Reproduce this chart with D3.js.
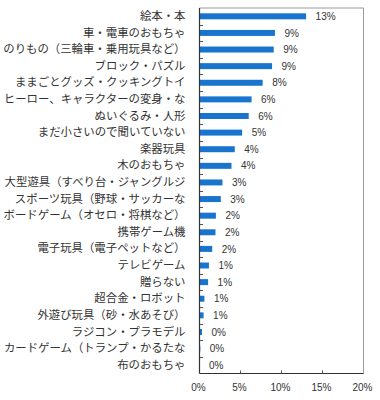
<!DOCTYPE html>
<html><head><meta charset="utf-8">
<script src="https://cdn.jsdelivr.net/npm/d3@7"></script>
<style>
html,body{margin:0;padding:0;background:#fff;}
svg{display:block;}
</style>
</head><body>
<svg id="chart" width="380" height="400"></svg>
<script>
const categories = [
  "絵本・本",
  "車・電車のおもちゃ",
  "のりもの（三輪車・乗用玩具など）",
  "ブロック・パズル",
  "ままごとグッズ・クッキングトイ",
  "ヒーロー、キャラクターの変身・な",
  "ぬいぐるみ・人形",
  "まだ小さいので聞いていない",
  "楽器玩具",
  "木のおもちゃ",
  "大型遊具（すべり台・ジャングルジ",
  "スポーツ玩具（野球・サッカーな",
  "ボードゲーム（オセロ・将棋など）",
  "携帯ゲーム機",
  "電子玩具（電子ペットなど）",
  "テレビゲーム",
  "贈らない",
  "超合金・ロボット",
  "外遊び玩具（砂・水あそび）",
  "ラジコン・プラモデル",
  "カードゲーム（トランプ・かるたな",
  "布のおもちゃ"
];
const values = [13.0, 9.2, 9.05, 8.85, 7.7, 6.35, 6.0, 5.2, 4.3, 3.9, 2.8, 2.6, 2.0, 1.95, 1.55, 1.15, 1.05, 0.6, 0.5, 0.3, 0.1, 0.0];
const valueLabels = ["13%","9%","9%","9%","8%","6%","6%","5%","4%","4%","3%","3%","2%","2%","2%","1%","1%","1%","1%","0%","0%","0%"];
const xTicks = [0, 5, 10, 15, 20];
const xTickLabels = ["0%","5%","10%","15%","20%"];

const svg = d3.select("#chart");
const pLeft = 199.5, pRight = 363.5, pTop = 8, pBottom = 373.5;

const x = d3.scaleLinear().domain([0, 20]).range([pLeft, pRight]);
const y = d3.scaleBand().domain(categories).range([pTop, pBottom]).paddingInner(0.64).paddingOuter(0.32);
const yRow = d3.scaleBand().domain(categories).range([pTop, pBottom]);

// frame (top, right)
svg.append("path")
  .attr("d", `M${pLeft},${pTop}H${pRight}V${pBottom}`)
  .attr("fill", "none").attr("stroke", "#9a9a9a").attr("stroke-width", 1);

// bars
svg.append("g").selectAll("rect").data(categories).join("rect")
  .attr("x", x(0))
  .attr("y", d => y(d))
  .attr("width", (d, i) => x(values[i]) - x(0))
  .attr("height", y.bandwidth())
  .attr("fill", "#1874cd");

// value labels
svg.append("g").selectAll("text").data(categories).join("text")
  .attr("x", (d, i) => x(values[i]) + 9.5)
  .attr("y", d => yRow(d) + yRow.bandwidth() / 2 + 1)
  .attr("dominant-baseline", "middle")
  .attr("font-family", "Liberation Sans, Arial, sans-serif")
  .attr("font-size", "10px")
  .attr("fill", "#333")
  .text((d, i) => valueLabels[i]);

// left axis
const rowBounds = categories.slice(1).map(c => yRow(c));
svg.append("g").selectAll("line").data(rowBounds).join("line")
  .attr("x1", pLeft).attr("x2", pLeft + 3.5)
  .attr("y1", d => Math.round(d) + 0.5).attr("y2", d => Math.round(d) + 0.5)
  .attr("stroke", "#555").attr("stroke-width", 1);
svg.append("line").attr("x1", pLeft).attr("x2", pLeft).attr("y1", pTop).attr("y2", pBottom)
  .attr("stroke", "#333").attr("stroke-width", 1.2);

// category labels
svg.append("g").selectAll("text").data(categories).join("text")
  .attr("x", 185.5)
  .attr("y", d => yRow(d) + yRow.bandwidth() / 2 + 0.5)
  .attr("text-anchor", "end")
  .attr("dominant-baseline", "middle")
  .attr("font-family", "Noto Sans CJK JP, sans-serif")
  .attr("font-size", "11.4px")
  .attr("fill", "#333")
  .text(d => d);

// bottom axis
svg.append("line").attr("x1", pLeft).attr("x2", pRight).attr("y1", pBottom).attr("y2", pBottom)
  .attr("stroke", "#333").attr("stroke-width", 1.2);
svg.append("g").selectAll("line").data(xTicks.slice(1, -1)).join("line")
  .attr("x1", d => x(d)).attr("x2", d => x(d))
  .attr("y1", pBottom).attr("y2", pBottom - 3)
  .attr("stroke", "#555");
svg.append("g").selectAll("text").data(xTicks).join("text")
  .attr("x", d => x(d) - 1)
  .attr("y", 388)
  .attr("text-anchor", "middle")
  .attr("dominant-baseline", "middle")
  .attr("font-family", "Liberation Sans, Arial, sans-serif")
  .attr("font-size", "10px")
  .attr("fill", "#333")
  .text((d, i) => xTickLabels[i]);
</script>
</body></html>
